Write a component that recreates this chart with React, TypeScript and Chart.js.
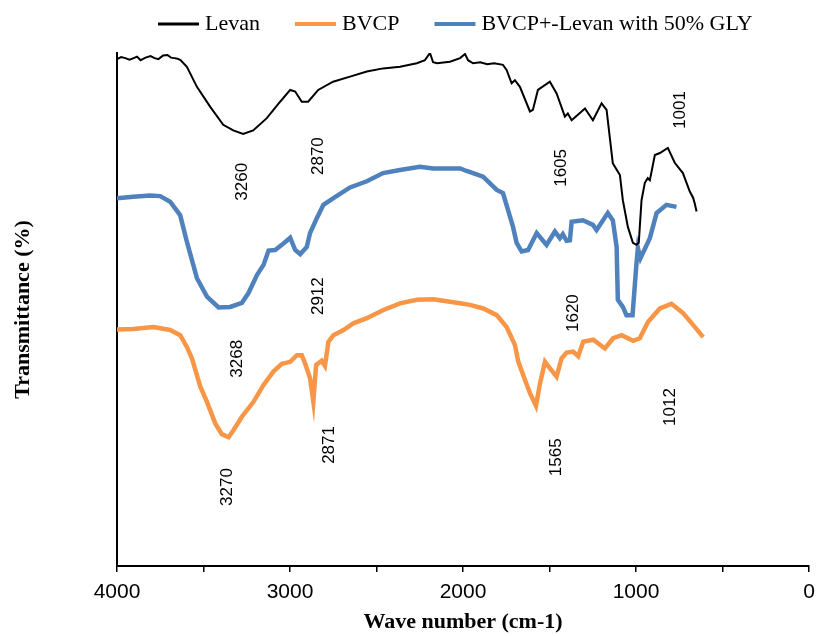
import React, { useEffect, useRef } from 'react';
import { Chart, registerables } from 'chart.js';

Chart.register(...registerables);

// ---- Data (wavenumber cm-1 / transmittance, arbitrary offset %) ----
const levanX = [4000, 3976, 3952, 3928, 3904, 3884, 3864, 3835, 3806, 3783, 3760, 3734, 3708, 3688, 3668, 3650, 3633, 3596, 3538, 3461, 3386, 3328, 3271, 3213, 3134, 3057, 2999, 2970, 2932, 2895, 2837, 2751, 2653, 2556, 2462, 2364, 2267, 2220, 2191, 2173, 2150, 2075, 2017, 1988, 1971, 1942, 1900, 1860, 1820, 1769, 1748, 1719, 1700, 1671, 1613, 1596, 1567, 1498, 1459, 1411, 1394, 1372, 1295, 1249, 1199, 1170, 1134, 1093, 1076, 1047, 1018, 997, 984, 968, 949, 932, 920, 891, 862, 816, 776, 729, 689, 670, 660, 650];
const levanY = [98.8, 99.2, 99.0, 98.7, 99.0, 99.3, 98.6, 99.1, 99.4, 99.0, 98.8, 99.5, 99.6, 99.1, 99.0, 98.9, 98.6, 97.3, 93.4, 89.5, 86.0, 84.9, 84.2, 84.9, 87.3, 90.5, 92.8, 92.5, 90.5, 90.5, 92.8, 94.4, 95.4, 96.4, 97.0, 97.3, 98.0, 98.6, 100.0, 98.2, 98.0, 98.3, 99.0, 99.8, 98.6, 98.0, 98.2, 97.8, 98.0, 97.7, 96.7, 94.1, 94.7, 93.4, 88.6, 88.9, 92.8, 94.4, 92.1, 87.6, 88.2, 86.9, 89.2, 86.9, 90.2, 88.9, 78.5, 76.2, 71.3, 66.1, 63.0, 62.6, 63.0, 71.3, 74.7, 75.6, 75.2, 80.1, 80.5, 81.5, 78.6, 76.6, 73.0, 71.8, 70.6, 69.1];

const bvcpX = [4000, 3906, 3789, 3693, 3635, 3596, 3567, 3519, 3480, 3432, 3394, 3355, 3326, 3278, 3211, 3153, 3096, 3047, 2999, 2960, 2932, 2913, 2884, 2865, 2849, 2817, 2798, 2778, 2749, 2691, 2634, 2556, 2460, 2364, 2267, 2170, 2075, 2017, 1960, 1883, 1805, 1748, 1700, 1680, 1642, 1613, 1578, 1555, 1526, 1497, 1459, 1430, 1401, 1363, 1334, 1305, 1247, 1180, 1132, 1083, 1016, 978, 930, 862, 795, 728, 670, 612];
const bvcpY = [46.1, 46.2, 46.6, 46.0, 45.0, 42.7, 40.5, 35.0, 32.0, 27.8, 25.7, 25.1, 26.5, 29.1, 32.0, 35.3, 37.9, 39.4, 39.8, 41.1, 41.1, 39.5, 36.6, 32.0, 39.2, 40.0, 39.0, 43.7, 45.0, 46.0, 47.3, 48.3, 49.9, 51.2, 51.9, 52.0, 51.5, 51.2, 50.9, 50.2, 48.9, 46.6, 43.1, 39.8, 36.3, 33.7, 31.2, 35.6, 39.8, 38.5, 36.9, 40.5, 41.6, 41.8, 40.9, 43.7, 44.1, 42.4, 44.4, 45.0, 43.9, 44.4, 47.6, 50.2, 51.1, 49.3, 47.0, 44.6];

const blendX = [4000, 3906, 3808, 3750, 3693, 3635, 3596, 3538, 3480, 3413, 3346, 3278, 3240, 3191, 3153, 3124, 3086, 3047, 2999, 2970, 2941, 2903, 2884, 2845, 2807, 2749, 2653, 2556, 2462, 2364, 2249, 2173, 2017, 1979, 1884, 1805, 1769, 1740, 1711, 1690, 1661, 1624, 1574, 1517, 1469, 1440, 1423, 1401, 1382, 1372, 1307, 1249, 1228, 1163, 1134, 1112, 1105, 1076, 1055, 1020, 997, 989, 974, 920, 881, 824, 766];
const blendY = [71.7, 72.0, 72.2, 72.1, 71.0, 68.4, 63.2, 56.1, 52.5, 50.4, 50.5, 51.3, 53.2, 56.7, 58.7, 61.5, 61.6, 62.6, 64.0, 61.6, 60.8, 62.2, 64.9, 67.8, 70.4, 71.7, 73.8, 75.0, 76.6, 77.2, 77.8, 77.5, 77.5, 77.0, 75.9, 73.3, 72.7, 69.4, 66.1, 63.0, 61.3, 61.6, 64.9, 62.6, 65.2, 63.9, 64.7, 63.4, 63.5, 67.1, 67.4, 66.5, 65.5, 68.8, 67.4, 62.2, 51.9, 50.5, 48.9, 48.9, 59.1, 62.0, 60.0, 63.9, 68.8, 70.4, 70.0];

const seriesNames = ['Levan', 'BVCP', 'BVCP+-Levan with 50% GLY'];
const seriesColors = ['#000000', '#F79646', '#4F81BD'];
const seriesWidths = [2, 4.5, 4.5];

const peakLabels = ['3260', '2870', '1605', '1001', '2912', '3268', '1620', '3270', '2871', '1565', '1012'];
const peakLabelX = [3278, 2837, 1430, 741, 2837, 3305, 1365, 3363, 2773, 1463, 799];
const peakLabelY = [74.9, 79.9, 77.6, 88.9, 52.6, 40.4, 49.3, 15.4, 23.6, 21.2, 31.0];

const xMin = 0;
const xMax = 4000;
const xStep = 500;
const xLabelStep = 1000;

const toPoints = (xs: number[], ys: number[]) => xs.map((x, i) => ({ x, y: ys[i] }));

export default function App() {
  const ref = useRef<HTMLCanvasElement>(null);

  useEffect(() => {
    if (!ref.current) return;

    const legendPlugin = {
      id: 'customLegend',
      afterDraw(chart: any) {
        const ctx = chart.ctx;
        ctx.save();
        ctx.font = '22px "Liberation Serif", "Times New Roman", serif';
        ctx.textBaseline = 'middle';
        ctx.textAlign = 'left';
        let x = 158;
        const y = 24;
        chart.data.datasets.forEach((ds: any, i: number) => {
          ctx.strokeStyle = ds.borderColor;
          ctx.lineWidth = i === 0 ? 3 : 4;
          ctx.beginPath();
          ctx.moveTo(x, y);
          ctx.lineTo(x + 41, y);
          ctx.stroke();
          x += 47;
          ctx.fillStyle = '#000';
          ctx.fillText(ds.label, x, y);
          x += ctx.measureText(ds.label).width + 35;
        });
        ctx.restore();
      },
    };

    const peakPlugin = {
      id: 'peakLabels',
      afterDatasetsDraw(chart: any) {
        const ctx = chart.ctx;
        const xs = chart.scales.x;
        const ys = chart.scales.y;
        ctx.save();
        ctx.font = '17px "Liberation Sans", Arial, sans-serif';
        ctx.fillStyle = '#000';
        ctx.textAlign = 'center';
        ctx.textBaseline = 'middle';
        peakLabels.forEach((t, i) => {
          const px = xs.getPixelForValue(peakLabelX[i]);
          const py = ys.getPixelForValue(peakLabelY[i]);
          ctx.save();
          ctx.translate(px, py);
          ctx.rotate(-Math.PI / 2);
          ctx.fillText(t, 0, 0);
          ctx.restore();
        });
        ctx.restore();
      },
    };

    const chart = new Chart(ref.current, {
      type: 'scatter',
      data: {
        datasets: [
          { label: seriesNames[0], data: toPoints(levanX, levanY), borderColor: seriesColors[0], backgroundColor: seriesColors[0], borderWidth: seriesWidths[0], showLine: true, pointRadius: 0, tension: 0 },
          { label: seriesNames[1], data: toPoints(bvcpX, bvcpY), borderColor: seriesColors[1], backgroundColor: seriesColors[1], borderWidth: seriesWidths[1], showLine: true, pointRadius: 0, tension: 0 },
          { label: seriesNames[2], data: toPoints(blendX, blendY), borderColor: seriesColors[2], backgroundColor: seriesColors[2], borderWidth: seriesWidths[2], showLine: true, pointRadius: 0, tension: 0 },
        ],
      },
      options: {
        responsive: false,
        animation: false,
        layout: { padding: { top: 53, right: 7, left: 0, bottom: 0 } },
        plugins: {
          legend: { display: false },
          tooltip: { enabled: false },
        },
        scales: {
          x: {
            type: 'linear',
            reverse: true,
            min: xMin,
            max: xMax,
            afterFit: (s: any) => { s.height = 70; s.paddingRight = 0; s.paddingLeft = 0; },
            ticks: {
              stepSize: xStep,
              autoSkip: false,
              maxRotation: 0,
              padding: 8,
              color: '#000',
              font: { family: '"Liberation Sans", Arial, sans-serif', size: 21 },
              callback: (v: any) => (Number(v) % xLabelStep === 0 ? String(v) : ''),
            },
            grid: { drawOnChartArea: false, drawTicks: true, tickLength: 6, color: '#000', lineWidth: 1.5 },
            border: { display: true, color: '#000', width: 2 },
            title: {
              display: true,
              text: 'Wave number (cm-1)',
              color: '#000',
              font: { family: '"Liberation Serif", "Times New Roman", serif', size: 22, weight: 'bold' },
              padding: { top: 0, bottom: 0 },
            },
          },
          y: {
            min: 0,
            max: 100,
            afterFit: (s: any) => { s.width = 117; },
            ticks: { display: false },
            grid: { display: false },
            border: { display: true, color: '#000', width: 2 },
            title: {
              display: true,
              text: 'Transmittance (%)',
              color: '#000',
              font: { family: '"Liberation Serif", "Times New Roman", serif', size: 22, weight: 'bold' },
              padding: { top: 10, bottom: 0 },
            },
          },
        },
      },
      plugins: [legendPlugin, peakPlugin],
    } as any);

    return () => chart.destroy();
  }, []);

  return (
    <div style={{ position: 'absolute', left: 0, top: 0, width: 816, height: 636, background: '#fff' }}>
      <canvas ref={ref} width={816} height={636} style={{ width: '816px', height: '636px', display: 'block' }} />
    </div>
  );
}
